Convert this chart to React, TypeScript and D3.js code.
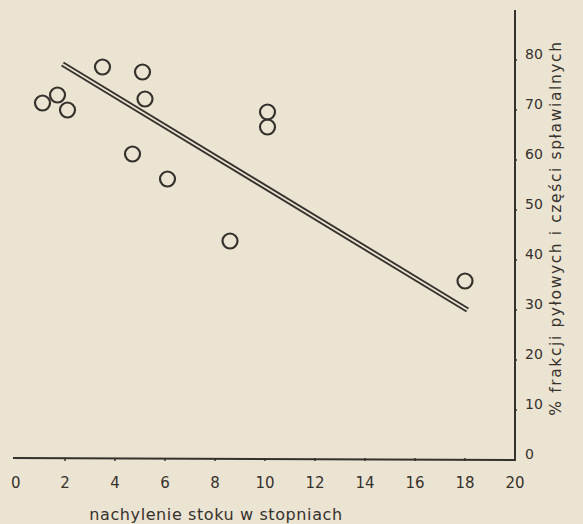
import React, { useEffect, useRef } from 'react';
import * as d3 from 'd3';

// slope (degrees) vs % of silt and clay fraction
const slopeDeg = [1.1, 1.7, 2.1, 3.5, 5.1, 5.2, 4.7, 6.1, 8.6, 10.1, 10.1, 18.0];
const siltPct = [71.4, 73, 70, 78.6, 77.6, 72.2, 61.2, 56.2, 43.8, 69.6, 66.6, 35.8];
const trendX = [1.9, 18.1];
const trendY = [79.2, 30];
const xTicks = [0, 2, 4, 6, 8, 10, 12, 14, 16, 18, 20];
const yTicks = [0, 10, 20, 30, 40, 50, 60, 70, 80];

const W = 583, H = 524;
const ink = '#35312d';
const paper = '#ece4d2';
const font = '"DejaVu Sans", sans-serif';

const App = () => {
    const svgRef = useRef<SVGSVGElement>(null);

    useEffect(() => {
        document.body.style.margin = '0';
        const svg = d3.select(svgRef.current);
        svg.selectAll('*').remove();

        const x = d3.scaleLinear().domain([0, 20]).range([15, 515]);
        const y = d3.scaleLinear().domain([0, 80]).range([460, 60]);

        svg.append('rect').attr('width', W).attr('height', H).attr('fill', paper);

        // axes: bottom baseline and right vertical axis
        svg.append('line')
            .attr('x1', x(0) - 2).attr('x2', x(20))
            .attr('y1', y(0) - 2).attr('y2', y(0))
            .attr('stroke', ink).attr('stroke-width', 2);
        svg.append('line')
            .attr('x1', x(20)).attr('x2', x(20))
            .attr('y1', 10).attr('y2', y(0) + 1)
            .attr('stroke', ink).attr('stroke-width', 2);

        // small ticks on the axes
        svg.append('g').selectAll('line').data(xTicks.slice(1, -1)).enter().append('line')
            .attr('x1', d => x(d)).attr('x2', d => x(d))
            .attr('y1', y(0) - 2).attr('y2', y(0) + 1)
            .attr('stroke', ink).attr('stroke-width', 1.5);
        svg.append('g').selectAll('line').data(yTicks.slice(1)).enter().append('line')
            .attr('x1', x(20)).attr('x2', x(20) + 2)
            .attr('y1', d => y(d)).attr('y2', d => y(d))
            .attr('stroke', ink).attr('stroke-width', 1.5);

        // tick labels
        svg.append('g').selectAll('text').data(xTicks).enter().append('text')
            .attr('x', d => x(d))
            .attr('y', 488)
            .attr('text-anchor', d => d === 0 ? 'start' : 'middle')
            .attr('dx', d => d === 0 ? -4 : 0)
            .style('font-family', font).style('font-size', '15px')
            .attr('fill', ink)
            .text(d => d);
        svg.append('g').selectAll('text').data(yTicks).enter().append('text')
            .attr('x', x(20) + 10)
            .attr('y', d => y(d) - 1)
            .style('font-family', font).style('font-size', '14px')
            .attr('fill', ink)
            .text(d => d);

        // axis titles
        svg.append('text')
            .attr('x', 216).attr('y', 520)
            .attr('text-anchor', 'middle')
            .style('font-family', font).style('font-size', '16px')
            .style('letter-spacing', '0.6px')
            .attr('fill', ink)
            .text('nachylenie stoku w stopniach');
        svg.append('text')
            .attr('transform', `translate(561, ${228}) rotate(-90)`)
            .attr('text-anchor', 'middle')
            .style('font-family', font).style('font-size', '15.5px')
            .style('letter-spacing', '1.6px')
            .attr('fill', ink)
            .text('% frakcji pyłowych i części spławialnych');

        // double trend line
        const line = d3.line<number>().x((d, i) => x(trendX[i])).y((d, i) => y(trendY[i]));
        svg.append('path')
            .attr('d', line(trendY))
            .attr('fill', 'none').attr('stroke', ink).attr('stroke-width', 5.5);
        svg.append('path')
            .attr('d', line(trendY))
            .attr('fill', 'none').attr('stroke', paper).attr('stroke-width', 1.8);

        // open circles
        svg.append('g').selectAll('circle').data(slopeDeg).enter().append('circle')
            .attr('cx', d => x(d))
            .attr('cy', (d, i) => y(siltPct[i]))
            .attr('r', 7.5)
            .attr('fill', 'none')
            .attr('stroke', ink).attr('stroke-width', 2.2);
    }, []);

    return (
        <div>
            <svg ref={svgRef} width={W} height={H} style={{ display: 'block' }}></svg>
        </div>
    );
};

export default App;
